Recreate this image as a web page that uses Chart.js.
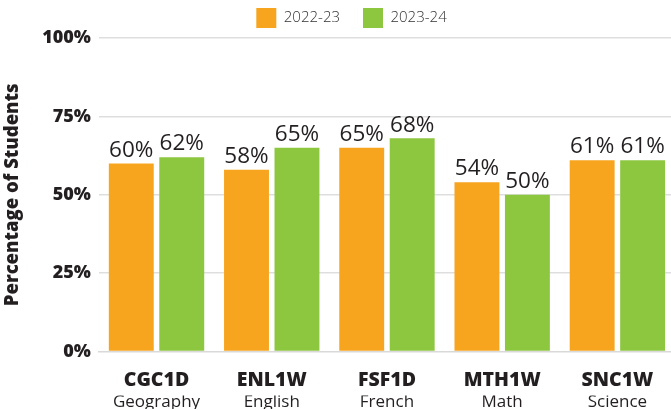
<!DOCTYPE html>
<html lang="en">
<head>
  <meta charset="UTF-8">
  <title>Percentage of Students by Course</title>
  <script src="https://cdn.jsdelivr.net/npm/chart.js"></script>
  <style>
    html, body {
      margin: 0;
      padding: 0;
      overflow: hidden;
      background: #fff;
      width: 671px;
      height: 410px;
    }
    #chart-container {
      position: absolute;
      left: 0;
      top: -41px;
      width: 707px;
      height: 450px;
    }
  </style>
</head>
<body>
  <div id="chart-container">
    <canvas id="courseChart"></canvas>
  </div>

  <script>
    const courseCodes = ['CGC1D', 'ENL1W', 'FSF1D', 'MTH1W', 'SNC1W'];
    const courseNames = ['Geography', 'English', 'French', 'Math', 'Science'];
    const years = ['2022-23', '2023-24'];
    const values2022 = [60, 58, 65, 54, 61];
    const values2023 = [62, 65, 68, 50, 61];
    const yTicks = [0, 25, 50, 75, 100];

    const FONT = "'Open Sans', 'DejaVu Sans', sans-serif";
    const ORANGE = '#F7A51F';
    const GREEN = '#8DC63F';
    const TEXT = '#231F20';

    // value labels above each bar
    const valueLabels = {
      id: 'valueLabels',
      afterDatasetsDraw(chart) {
        const ctx = chart.ctx;
        ctx.save();
        ctx.font = '400 22.5px ' + FONT;
        ctx.fillStyle = TEXT;
        ctx.textAlign = 'center';
        ctx.textBaseline = 'bottom';
        chart.data.datasets.forEach((ds, i) => {
          chart.getDatasetMeta(i).data.forEach((bar, j) => {
            ctx.fillText(ds.data[j] + '%', bar.x, bar.y - 2);
          });
        });
        ctx.restore();
      }
    };

    // legend sits centred on the full (uncropped) chart width
    const legendShift = {
      id: 'legendShift',
      afterLayout(chart) {
        chart.legend.left += 13;
        chart.legend.right += 13;
      }
    };

    const ctx = document.getElementById('courseChart').getContext('2d');
    new Chart(ctx, {
      type: 'bar',
      data: {
        labels: courseCodes,
        datasets: [
          { label: years[0], data: values2022, backgroundColor: ORANGE },
          { label: years[1], data: values2023, backgroundColor: GREEN }
        ]
      },
      options: {
        responsive: true,
        maintainAspectRatio: false,
        animation: false,
        categoryPercentage: 0.876,
        barPercentage: 0.89,
        layout: { padding: { left: 2, right: 32, top: 0, bottom: 0 } },
        plugins: {
          title: {
            display: true,
            text: 'Percentage of Students Achieving Course Credits (by Subject Group)',
            font: { family: FONT, size: 20, weight: '400' },
            color: '#555',
            padding: { top: 17, bottom: -15 }
          },
          legend: {
            position: 'top',
            labels: {
              boxWidth: 20,
              boxHeight: 20,
              padding: 23,
              color: '#333',
              font: { family: FONT, size: 15, weight: '300' }
            }
          },
          tooltip: { enabled: false }
        },
        scales: {
          x: {
            grid: { display: false, drawTicks: false },
            border: { display: true, color: '#d9d9d9', width: 1.5 },
            ticks: {
              color: TEXT,
              padding: 17,
              font: { family: FONT, size: 19.5, weight: '800' }
            }
          },
          x2: {
            type: 'category',
            labels: courseNames,
            position: 'bottom',
            offset: true,
            grid: { display: false, drawTicks: false },
            border: { display: false },
            ticks: {
              color: TEXT,
              padding: -17,
              font: { family: FONT, size: 17, weight: '400' }
            }
          },
          y: {
            min: 0,
            max: 100,
            z: 1,
            afterBuildTicks: (axis) => {
              axis.ticks = yTicks.map(v => ({ value: v }));
            },
            grid: {
              color: (c) => c.tick && c.tick.value === 0 ? 'rgba(0,0,0,0)' : 'rgba(0,0,0,0.13)',
              lineWidth: 1.5,
              drawTicks: false
            },
            border: { display: false },
            ticks: {
              color: TEXT,
              padding: 8,
              callback: (v) => v + '%',
              font: { family: FONT, size: 18, weight: '800' }
            },
            title: {
              display: true,
              text: 'Percentage of Students',
              color: TEXT,
              padding: { top: 0, bottom: 10 },
              font: { family: FONT, size: 18.5, weight: '800' }
            }
          }
        }
      },
      plugins: [valueLabels, legendShift]
    });
  </script>
</body>
</html>
